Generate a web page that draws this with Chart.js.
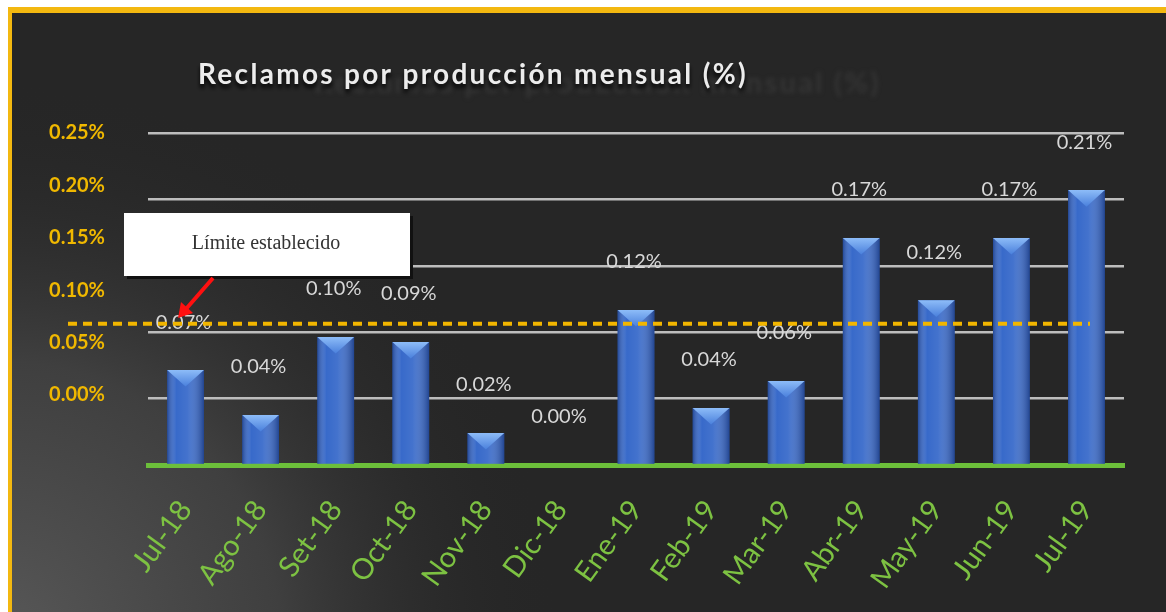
<!DOCTYPE html>
<html>
<head>
<meta charset="utf-8">
<script src="https://cdn.jsdelivr.net/npm/chart.js@4"></script>
<style>
  html, body { margin: 0; padding: 0; background: #fff; }
  canvas { display: block; }
</style>
</head>
<body>
<canvas id="chart" width="1166" height="612"></canvas>
<script>
const categories = ['Jul-18', 'Ago-18', 'Set-18', 'Oct-18', 'Nov-18', 'Dic-18', 'Ene-19',
  'Feb-19', 'Mar-19', 'Abr-19', 'May-19', 'Jun-19', 'Jul-19'];
const reclamos = [0.0715, 0.0377, 0.0964, 0.0926, 0.0241, 0, 0.1167,
  0.0429, 0.0633, 0.171, 0.124, 0.171, 0.207];
const axisTicks = [0, 0.05, 0.10, 0.15, 0.20, 0.25];
const limite = 0.07;
const titulo = 'Reclamos por producción mensual (%)';
const limiteLabel = 'Límite establecido';

const pct = v => v.toFixed(2) + '%';

// fondo oscuro con marco dorado
const backgroundPlugin = {
  id: 'background',
  beforeDraw(chart) {
    const { ctx, width, height } = chart;
    ctx.save();
    ctx.fillStyle = '#ffffff';
    ctx.fillRect(0, 0, width, height);
    ctx.fillStyle = '#f3b810';
    ctx.fillRect(8, 7, width - 8, height - 7);
    ctx.fillStyle = '#262626';
    ctx.fillRect(12, 13, width - 12, height - 13);
    const g = ctx.createRadialGradient(0, height + 30, 0, 0, height + 30, 560);
    g.addColorStop(0, 'rgba(88,88,88,1)');
    g.addColorStop(0.5, 'rgba(66,66,66,0.9)');
    g.addColorStop(1, 'rgba(38,38,38,0)');
    ctx.fillStyle = g;
    ctx.fillRect(12, 13, width - 12, height - 13);

    // titulo con su "fantasma" desplazado
    ctx.font = 'bold 28px Lato';
    ctx.letterSpacing = '0px';
    const natural = ctx.measureText(titulo).width;
    const spacing = (550 - natural) / titulo.length;
    ctx.letterSpacing = spacing.toFixed(2) + 'px';
    ctx.textBaseline = 'alphabetic';
    ctx.textAlign = 'left';
    ctx.save();
    ctx.filter = 'blur(2px)';
    ctx.font = 'bold 29px Lato';
    ctx.fillStyle = 'rgba(62,62,62,0.6)';
    ctx.fillText(titulo, 314, 93);
    ctx.restore();
    ctx.shadowColor = 'rgba(0,0,0,0.95)';
    ctx.shadowBlur = 4;
    ctx.shadowOffsetY = 4;
    ctx.fillStyle = '#ececec';
    ctx.fillText(titulo, 198, 84);
    ctx.restore();
  }
};

// sombreado de barras y etiquetas de valores
const barStylePlugin = {
  id: 'barStyle',
  afterDatasetsDraw(chart) {
    const { ctx } = chart;
    const meta = chart.getDatasetMeta(0);
    ctx.save();
    meta.data.forEach((bar, i) => {
      const { x, y, base, width } = bar.getProps(['x', 'y', 'base', 'width'], true);
      const h = base - y;
      const l = x - width / 2;
      const r = x + width / 2;
      if (h > 1) {
        const g = ctx.createLinearGradient(l, 0, r, 0);
        g.addColorStop(0, 'rgba(15,35,90,0.45)');
        g.addColorStop(0.25, 'rgba(255,255,255,0.02)');
        g.addColorStop(0.55, 'rgba(255,255,255,0.08)');
        g.addColorStop(1, 'rgba(15,35,90,0.5)');
        ctx.fillStyle = g;
        ctx.fillRect(l, y, width, h);
        const cap = Math.min(width * 0.45, h);
        const tg = ctx.createLinearGradient(0, y, 0, y + cap);
        tg.addColorStop(0, '#8dbcf8');
        tg.addColorStop(1, '#4a80dc');
        ctx.fillStyle = tg;
        ctx.beginPath();
        ctx.moveTo(l, y);
        ctx.lineTo(r, y);
        ctx.lineTo(x, y + cap);
        ctx.closePath();
        ctx.fill();
      }
      ctx.font = '20px Lato';
      ctx.fillStyle = '#d8d8d8';
      ctx.textAlign = 'center';
      ctx.textBaseline = 'middle';
      ctx.fillText(pct(reclamos[i]), x - 2, y - 48);
    });
    ctx.restore();
  }
};

// linea de limite, recuadro y flecha
const limitePlugin = {
  id: 'limite',
  afterDraw(chart) {
    const { ctx } = chart;
    const yPix = chart.scales.yLabels.getPixelForValue(limite) + 2;
    ctx.save();
    ctx.strokeStyle = '#f2b600';
    ctx.lineWidth = 4;
    ctx.setLineDash([9, 6]);
    ctx.beginPath();
    ctx.moveTo(68, yPix);
    ctx.lineTo(1090, yPix);
    ctx.stroke();
    ctx.setLineDash([]);

    ctx.fillStyle = '#111';
    ctx.fillRect(127, 216, 286, 63);
    ctx.fillStyle = '#ffffff';
    ctx.fillRect(124, 213, 286, 63);
    ctx.font = '20px "Liberation Serif"';
    ctx.fillStyle = '#333';
    ctx.textAlign = 'center';
    ctx.textBaseline = 'middle';
    ctx.fillText(limiteLabel, 266, 244);

    ctx.strokeStyle = '#ff1010';
    ctx.fillStyle = '#ff1010';
    ctx.lineWidth = 4;
    ctx.beginPath();
    ctx.moveTo(213, 278);
    ctx.lineTo(186, 309);
    ctx.stroke();
    ctx.beginPath();
    ctx.moveTo(178, 318);
    ctx.lineTo(181, 302);
    ctx.lineTo(193, 313);
    ctx.closePath();
    ctx.fill();
    ctx.restore();
  }
};

new Chart(document.getElementById('chart'), {
  type: 'bar',
  data: {
    labels: categories,
    datasets: [{
      label: 'Reclamos',
      data: reclamos,
      yAxisID: 'y',
      backgroundColor: '#3467c9',
      borderWidth: 0,
      barPercentage: 0.49,
      categoryPercentage: 1
    }]
  },
  options: {
    responsive: false,
    animation: false,
    layout: { padding: { top: 133, right: 42, left: 0, bottom: 0 } },
    plugins: {
      legend: { display: false },
      tooltip: { enabled: false },
      title: { display: false }
    },
    scales: {
      x: {
        grid: { display: false },
        border: { color: '#6cbf3a', width: 5 },
        ticks: {
          color: '#7dc242',
          font: { family: 'Lato', size: 29 },
          minRotation: 54,
          maxRotation: 54,
          padding: 21
        },
        afterFit(scale) { scale.height = 147; }
      },
      y: {
        position: 'right',
        min: 0,
        max: 0.25,
        ticks: { stepSize: 0.05, display: false },
        grid: {
          color: c => (c.tick.value === 0 ? 'transparent' : '#bdbdbd'),
          lineWidth: 2.5,
          drawTicks: false
        },
        border: { display: false },
        afterFit(scale) { scale.width = 0; }
      },
      yLabels: {
        position: 'left',
        min: -0.0668,
        max: 0.25,
        afterBuildTicks(scale) { scale.ticks = axisTicks.map(v => ({ value: v })); },
        ticks: {
          color: '#f0b800',
          font: { family: 'Lato', size: 20, weight: 'bold' },
          padding: 43,
          callback: v => pct(v)
        },
        grid: { display: false, drawTicks: false },
        border: { display: false },
        afterFit(scale) { scale.width = 148; }
      }
    }
  },
  plugins: [backgroundPlugin, barStylePlugin, limitePlugin]
});
</script>
</body>
</html>
